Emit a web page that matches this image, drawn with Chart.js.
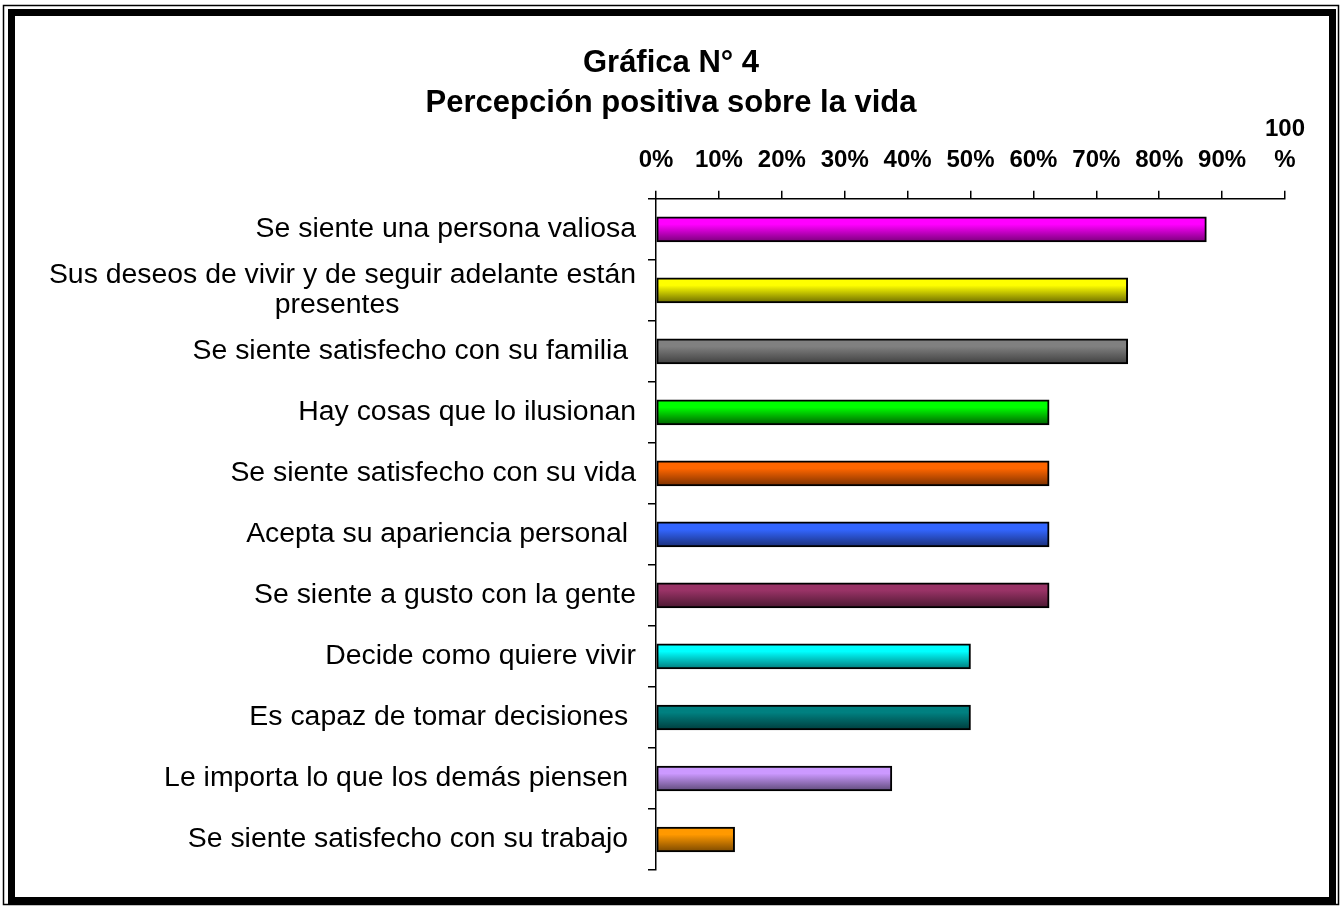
<!DOCTYPE html>
<html>
<head>
<meta charset="utf-8">
<script src="https://cdn.jsdelivr.net/npm/chart.js"></script>
<style>
  html, body { margin: 0; padding: 0; background: #fff; }
</style>
</head>
<body>
<canvas id="myBarChart" width="1342" height="906"></canvas>
<script>
// categories, top to bottom
const labels = [
  "Se siente una persona valiosa",
  ["Sus deseos de vivir y de seguir adelante están", "presentes" + " ".repeat(30)],
  "Se siente satisfecho con su familia ",
  "Hay cosas que lo ilusionan",
  "Se siente satisfecho con su vida",
  "Acepta su apariencia personal ",
  "Se siente a gusto con la gente",
  "Decide como quiere vivir",
  "Es capaz de tomar decisiones ",
  "Le importa lo que los demás piensen ",
  "Se siente satisfecho con su trabajo "
];
// percentages
const values = [87.5, 75, 75, 62.5, 62.5, 62.5, 62.5, 50, 50, 37.5, 12.5];
const titleLines = ["Gráfica N° 4", "Percepción positiva sobre la vida"];

const topColors = ["#ff00ff", "#ffff00", "#808080", "#00ff00", "#ff6600", "#3366ff",
                   "#993366", "#00ffff", "#008080", "#cc99ff", "#ff9900"];
const bottomColors = ["#7a007a", "#6b6b00", "#3f3f3f", "#006000", "#7a3000", "#1a2f78",
                      "#4a1830", "#007a7a", "#003c3c", "#5e4a78", "#7a4800"];

const BAR_H = 25;
const FONT = "'Liberation Sans', Arial, sans-serif";

function barFill(c) {
  const i = c.dataIndex;
  const chart = c.chart;
  if (!chart.chartArea || !chart.scales.y) return topColors[i];
  const yc = chart.scales.y.getPixelForValue(i);
  const g = chart.ctx.createLinearGradient(0, yc - BAR_H / 2, 0, yc + BAR_H / 2);
  g.addColorStop(0, topColors[i]);
  g.addColorStop(0.3, topColors[i]);
  g.addColorStop(1, bottomColors[i]);
  return g;
}

// white page + double frame
const framePlugin = {
  id: "frame",
  beforeDraw(chart) {
    const ctx = chart.ctx;
    ctx.save();
    ctx.fillStyle = "#fff";
    ctx.fillRect(0, 0, chart.width, chart.height);
    ctx.strokeStyle = "#000";
    ctx.lineWidth = 1.5;
    ctx.strokeRect(3.5, 5.5, 1335, 899);
    ctx.lineWidth = 7;
    ctx.strokeRect(11.5, 12.5, 1321, 888);
    ctx.restore();
  }
};

const ctx = document.getElementById("myBarChart");

new Chart(ctx, {
  type: "bar",
  data: {
    labels: labels,
    datasets: [
      {
        data: values,
        backgroundColor: barFill,
        borderColor: "#000",
        borderWidth: 2,
        borderSkipped: false,
        barThickness: BAR_H
      }
    ]
  },
  options: {
    indexAxis: "y",
    responsive: false,
    animation: false,
    layout: {
      padding: { left: 16, right: 16, top: 0, bottom: 36 }
    },
    plugins: {
      legend: { display: false },
      tooltip: { enabled: false },
      title: {
        display: true,
        text: titleLines,
        color: "#000",
        font: { family: FONT, size: 31, weight: "bold", lineHeight: 1.29 },
        padding: { top: 43, bottom: -24 }
      }
    },
    scales: {
      x: {
        position: "top",
        min: 0,
        max: 100,
        ticks: {
          stepSize: 10,
          color: "#000",
          padding: 14,
          maxRotation: 0,
          autoSkip: false,
          font: { family: FONT, size: 24, weight: "bold", lineHeight: 1.33 },
          callback: (v) => (v === 100 ? ["100", "%"] : v + "%")
        },
        grid: { drawOnChartArea: false, drawTicks: true, tickLength: 8, color: "#000", lineWidth: 1.5 },
        border: { display: true, color: "#000", width: 1.5 }
      },
      y: {
        ticks: {
          color: "#000",
          padding: 12,
          autoSkip: false,
          font: { family: FONT, size: 28.4, lineHeight: 1.05 }
        },
        grid: { drawOnChartArea: false, drawTicks: true, tickLength: 8, color: "#000", lineWidth: 1.5 },
        border: { display: true, color: "#000", width: 1.5 },
        afterFit(scale) { scale.width = 640; }
      },
      // empty spacer on the right so the plot ends at 100% like the original
      yRight: {
        type: "linear",
        position: "right",
        ticks: { display: false },
        grid: { display: false },
        border: { display: false },
        afterFit(scale) { scale.width = 41; }
      }
    }
  },
  plugins: [framePlugin]
});
</script>
</body>
</html>
